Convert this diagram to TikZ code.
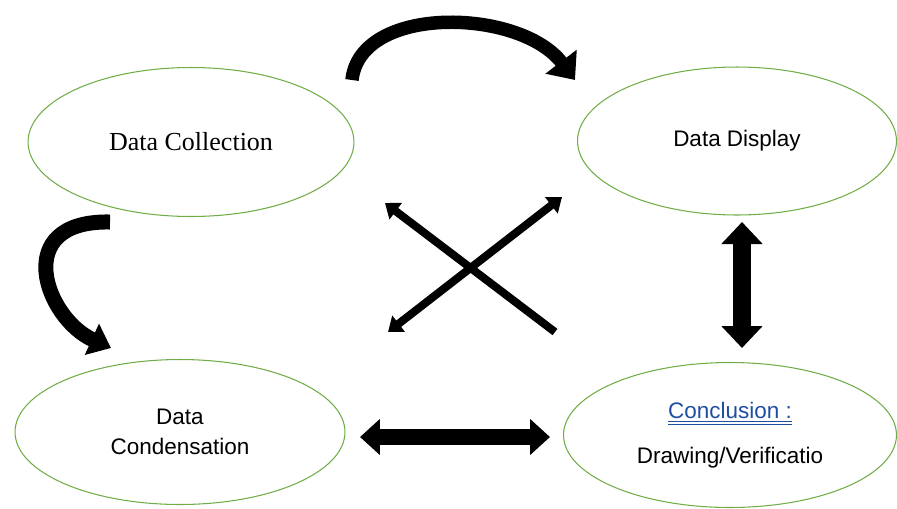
\documentclass[tikz,border=0pt]{standalone}
\usepackage{fontspec}
\setmainfont{Liberation Serif}
\newfontfamily\labelfont{Liberation Sans}
\usetikzlibrary{shapes.geometric,arrows.meta}

\definecolor{stagegreen}{RGB}{112,173,71}
\definecolor{linkblue}{RGB}{31,78,160}

\tikzset{
  stage/.style={ellipse, draw=stagegreen, line width=0.6pt, inner sep=0pt, align=center,
    font=\labelfont\fontsize{12.8}{15.4}\selectfont},
  curvearrow/.style={line width=0.27cm, -{Triangle[width=0.76cm,length=0.46cm]}},
  crossarrow/.style={line width=0.16cm},
  crosstip/.tip={Triangle[width=0.4cm,length=0.27cm]},
  blockarrow/.style={line width=0.32cm, {Triangle[width=0.7cm,length=0.4cm]}-{Triangle[width=0.7cm,length=0.4cm]}}
}

\begin{document}
\begin{tikzpicture}[x=0.02cm, y=-0.02cm]
      \useasboundingbox (0,0) rectangle (897,508);
      % stages
      \node[stage, minimum width=6.52cm, minimum height=2.98cm,
        font=\fontsize{14.8}{17}\selectfont] (coll) at (191,142) {Data Collection};
      \node[stage, minimum width=6.38cm, minimum height=2.96cm] (disp) at (737,141) {Data Display};
      \node[stage, minimum width=6.6cm, minimum height=2.9cm] (cond) at (180,432) {Data\\[1.5pt] Condensation};
      \node[stage, minimum width=6.66cm, minimum height=2.9cm] (concl) at (730,435)
        {\textcolor{linkblue}{\underline{\underline{Conclusion :}}}\\[10pt] Drawing/Verificatio};
      % arrow ends
      \coordinate (top-s) at (352,80);
      \coordinate (top-e) at (575,80);
      \coordinate (left-s) at (110,222);
      \coordinate (left-e) at (111,348);
      \coordinate (x1-s) at (555,332);
      \coordinate (x1-e) at (385,203);
      \coordinate (x2-s) at (388,332);
      \coordinate (x2-e) at (562,197);
      \coordinate (h-s) at (360,437);
      \coordinate (h-e) at (550,437);
      \coordinate (v-s) at (742,222);
      \coordinate (v-e) at (742,348);
      % arrows
      \draw[curvearrow] (top-s) .. controls (360,4) and (520,8) .. (top-e);
      \draw[curvearrow, line width=0.3cm, -{Triangle[width=0.66cm,length=0.42cm]}] (left-s) .. controls (10,220) and (45,318) .. (left-e);
      \draw[crossarrow, -crosstip] (x1-s) -- (x1-e);
      \draw[crossarrow, crosstip-crosstip] (x2-s) -- (x2-e);
      \draw[blockarrow] (h-s) -- (h-e);
      \draw[blockarrow, line width=0.36cm, {Triangle[width=0.8cm,length=0.44cm]}-{Triangle[width=0.8cm,length=0.44cm]}] (v-s) -- (v-e);
    \end{tikzpicture}
\end{document}
